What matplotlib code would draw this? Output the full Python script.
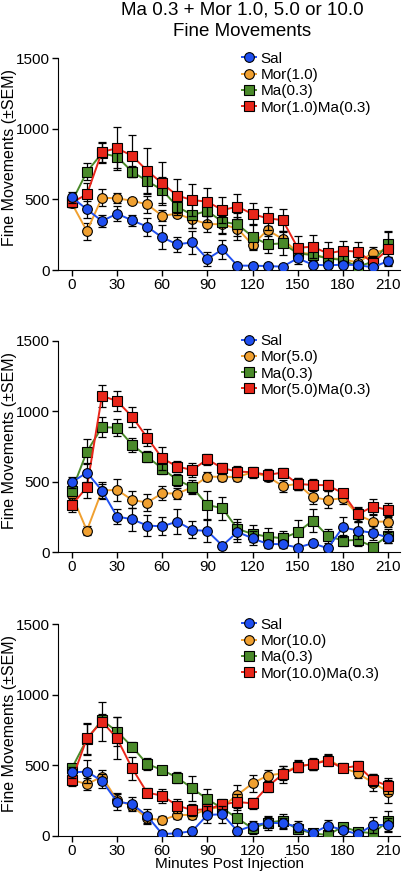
import matplotlib
matplotlib.use('Agg')
import matplotlib.pyplot as plt
import numpy as np

plt.rcParams['font.family'] = ['Liberation Sans', 'DejaVu Sans']

minutes = list(range(0, 220, 10))

# panel 1: Mor 1.0
sal1 = [515, 430, 347, 399, 352, 307, 231, 182, 196, 78, 146, 31, 31, 28, 24, 83, 38, 33, 38, 35, 19, 64]
sal1_err = [40, 60, 45, 55, 40, 65, 85, 55, 80, 50, 70, 15, 15, 15, 15, 40, 20, 20, 20, 20, 15, 25]
mor1 = [472, 276, 512, 508, 491, 465, 385, 399, 359, 326, 324, 293, 180, 283, 220, 125, 113, 83, 78, 52, 123, 146]
mor1_err = [25, 60, 60, 35, 15, 60, 40, 20, 60, 60, 60, 80, 40, 30, 60, 50, 40, 40, 40, 40, 40, 60]
ma1 = [484, 697, 827, 803, 697, 631, 567, 449, 390, 418, 342, 324, 236, 182, 189, 118, 106, 83, 71, 24, 59, 184]
ma1_err = [40, 60, 70, 80, 40, 90, 90, 60, 90, 80, 90, 80, 90, 60, 80, 50, 40, 40, 40, 40, 40, 90]
mix1 = [479, 536, 838, 862, 810, 704, 614, 527, 496, 484, 425, 449, 397, 366, 354, 158, 165, 118, 137, 130, 52, 146]
mix1_err = [30, 80, 70, 150, 150, 160, 150, 120, 110, 100, 90, 90, 80, 80, 80, 80, 80, 80, 70, 70, 50, 120]

# panel 2: Mor 5.0
sal2 = [496, 565, 437, 253, 234, 189, 184, 217, 158, 151, 47, 144, 99, 59, 57, 33, 64, 28, 177, 154, 137, 104]
sal2_err = [40, 70, 50, 50, 80, 75, 65, 90, 60, 80, 15, 70, 50, 30, 30, 20, 20, 15, 70, 60, 50, 40]
mor5 = [406, 154, 437, 442, 371, 352, 418, 416, 461, 536, 534, 534, 567, 536, 470, 484, 390, 371, 383, 265, 217, 217]
mor5_err = [40, 30, 60, 80, 60, 60, 50, 40, 40, 30, 30, 30, 30, 30, 40, 40, 50, 60, 40, 50, 50, 40]
ma2 = [437, 713, 886, 883, 763, 678, 593, 513, 461, 335, 312, 165, 130, 111, 99, 142, 224, 116, 83, 87, 40, 118]
ma2_err = [40, 90, 70, 60, 50, 40, 40, 40, 50, 100, 80, 70, 60, 60, 50, 90, 80, 50, 40, 40, 20, 50]
mix2 = [335, 461, 1108, 1072, 961, 813, 666, 607, 583, 659, 595, 572, 567, 548, 565, 484, 477, 475, 418, 269, 324, 300]
mix2_err = [50, 80, 80, 70, 70, 60, 80, 40, 50, 40, 40, 40, 40, 40, 30, 40, 40, 40, 30, 50, 50, 50]

# panel 3: Mor 10.0
sal3 = [451, 456, 390, 243, 227, 142, 14, 19, 35, 149, 154, 35, 73, 94, 90, 66, 19, 73, 43, 12, 78, 78]
sal3_err = [40, 80, 50, 60, 50, 50, 10, 10, 10, 60, 60, 15, 30, 40, 40, 40, 10, 40, 20, 10, 60, 50]
mor10 = [397, 368, 420, 255, 213, 125, 113, 149, 149, 189, 208, 291, 373, 428, 444, 496, 508, 543, 484, 444, 378, 314]
mor10_err = [30, 40, 50, 40, 30, 40, 30, 30, 30, 40, 50, 70, 60, 40, 50, 40, 40, 40, 30, 30, 60, 80]
ma3 = [480, 685, 822, 740, 633, 510, 468, 413, 338, 260, 196, 125, 54, 94, 109, 47, 19, 7, 66, 31, 19, 106]
ma3_err = [30, 110, 40, 100, 30, 40, 20, 40, 90, 70, 60, 70, 40, 50, 50, 30, 15, 15, 20, 15, 15, 70]
mix3 = [397, 692, 811, 692, 480, 307, 286, 215, 184, 189, 224, 241, 231, 350, 437, 491, 510, 534, 480, 498, 397, 354]
mix3_err = [40, 110, 140, 150, 80, 30, 50, 50, 40, 40, 40, 60, 40, 40, 60, 40, 40, 40, 30, 30, 40, 60]

panels = [
    ('Mor(1.0)', 'Mor(1.0)Ma(0.3)', sal1, sal1_err, mor1, mor1_err, ma1, ma1_err, mix1, mix1_err),
    ('Mor(5.0)', 'Mor(5.0)Ma(0.3)', sal2, sal2_err, mor5, mor5_err, ma2, ma2_err, mix2, mix2_err),
    ('Mor(10.0)', 'Mor(10.0)Ma(0.3)', sal3, sal3_err, mor10, mor10_err, ma3, ma3_err, mix3, mix3_err),
]

c_sal = '#1f4ff0'
c_mor = '#f0a030'
c_ma = '#4a8a2a'
c_mix = '#e8261a'

fig = plt.figure(figsize=(4.06, 8.73), dpi=100)
bottoms = [0.6907, 0.3674, 0.0424]

fig.text(0.596, 0.998, 'Ma 0.3 + Mor 1.0, 5.0 or 10.0', ha='center', va='top', fontsize=13.5)
fig.text(0.596, 0.9735, 'Fine Movements', ha='center', va='top', fontsize=13.5)

for i, p in enumerate(panels):
    mor_lab, mix_lab, s, se, m, me, a, ae, x, xe = p
    ax = fig.add_axes([0.1436, bottoms[i], 0.8417, 0.2425])
    series = [
        (m, me, c_mor, 'o', mor_lab, 2),
        (a, ae, c_ma, 's', 'Ma(0.3)', 3),
        (x, xe, c_mix, 's', mix_lab, 4),
        (s, se, c_sal, 'o', 'Sal', 5),
    ]
    handles = {}
    for vals, errs, col, mk, lab, z in series:
        ax.errorbar(minutes, vals, yerr=errs, fmt='none', ecolor='black', elinewidth=0.9,
                    capsize=3, capthick=0.9, zorder=z - 0.5)
        h, = ax.plot(minutes, vals, color=col, lw=1.4, marker=mk, markersize=7 if mk == 'o' else 6.8,
                     markerfacecolor=col, markeredgecolor='black', markeredgewidth=0.8,
                     label=lab, zorder=z)
        handles[lab] = h
    order = ['Sal', mor_lab, 'Ma(0.3)', mix_lab]
    ax.legend([handles[k] for k in order], order, loc='upper left', bbox_to_anchor=(0.52, 1.06),
              frameon=False, fontsize=11, handlelength=0.9, handletextpad=0.3,
              labelspacing=0.15, borderaxespad=0, markerscale=1)
    ax.set_xlim(-9, 218)
    ax.set_ylim(0, 1500)
    ax.set_xticks(range(0, 211, 30))
    ax.set_yticks([0, 500, 1000, 1500])
    ax.spines['top'].set_visible(False)
    ax.spines['right'].set_visible(False)
    ax.tick_params(labelsize=11, direction='out', length=4, width=1)
    ax.tick_params(axis='x', pad=1.5)
    ax.tick_params(axis='y', pad=2)
    ax.set_ylabel('Fine Movements (\u00b1SEM)', fontsize=11.5)
    ax.yaxis.set_label_coords(-0.122, 0.53)
    if i == 2:
        ax.set_xlabel('Minutes Post Injection', fontsize=11)
        ax.xaxis.set_label_coords(0.5, -0.1)

fig.savefig('out.png', dpi=100)
